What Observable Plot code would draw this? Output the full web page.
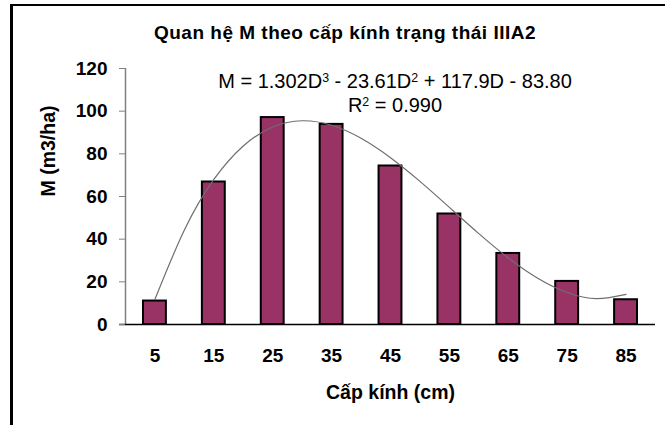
<!DOCTYPE html>
<html><head><meta charset="utf-8">
<script src="https://cdn.jsdelivr.net/npm/d3@7"></script>
<script src="https://cdn.jsdelivr.net/npm/@observablehq/plot@0.6"></script>
<style>
body{margin:0;background:#fff;font-family:Arial,"Liberation Sans",sans-serif;}
#wrap{position:relative;width:665px;height:425px;overflow:hidden;background:#fff;}
#frame{position:absolute;left:10px;top:4px;right:-10px;bottom:-10px;border-top:2.5px solid #000;border-left:3px solid #000;}
.t{position:absolute;white-space:nowrap;color:#000;transform:translateX(-50%);text-align:center;}
#title{left:345px;top:23px;font-size:19px;line-height:19px;font-weight:bold;letter-spacing:0.5px;}
#eq{left:395px;top:71px;font-size:20px;line-height:21px;}
#eq .s{font-size:0.62em;position:relative;top:-0.45em;}
#chart{position:absolute;left:0;top:0;}
</style></head><body>
<div id="wrap"><div id="frame"></div>
<div class="t" id="title">Quan hệ M theo cấp kính trạng thái IIIA2</div>
<div class="t" id="eq">M = 1.302D<span class="s">3</span> - 23.61D<span class="s">2</span> + 117.9D - 83.80<br>R<span class="s">2</span> = 0.990</div>
<div id="chart"></div></div>
<script>
const classes = [5, 15, 25, 35, 45, 55, 65, 75, 85];
const volumes = [11.0, 66.8, 97.0, 93.8, 74.3, 51.8, 33.3, 20.2, 11.6];
const trendClasses = [5, 10, 15, 20, 25, 30, 35, 40, 45, 50, 55, 60, 65, 70, 75, 80, 85];
const trendValues = [11.8, 44.3, 68.0, 83.7, 92.6, 95.5, 93.4, 87.3, 78.2, 67.1, 54.9, 42.6, 31.2, 21.7, 15.0, 12.1, 14.1];
const yTicks = [0, 20, 40, 60, 80, 100, 120];
const xTitle = "Cấp kính (cm)";
const yTitle = "M (m3/ha)";

const bars = classes.map((c, i) => ({cls: c, M: volumes[i]}));
const trend = trendClasses.map((c, i) => ({cls: c, M: trendValues[i]}));

const chart = Plot.plot({
  width: 665, height: 425,
  marginLeft: 125, marginRight: 10, marginTop: 68, marginBottom: 101,
  x: {type: "linear", domain: [0, 90]},
  y: {domain: [0, 120]},
  style: {background: "transparent", fontFamily: "Arial, 'Liberation Sans', sans-serif", fontSize: "19px", fontWeight: "bold", color: "#000"},
  marks: [
    Plot.rectY(bars, {x: "cls", y: "M", interval: 10, fill: "#993366", stroke: "#000", strokeWidth: 2, insetLeft: 18, insetRight: 18}),
    Plot.line(trend, {x: "cls", y: "M", curve: "natural", stroke: "#6e6e6e", strokeWidth: 1.2}),
    Plot.ruleX([0], {stroke: "#808080", strokeWidth: 1.5}),
    Plot.ruleY([0], {stroke: "#000", strokeWidth: 1.5, insetLeft: -6}),
    Plot.axisY({ticks: yTicks, tickSize: 6, tickPadding: 12, stroke: "#808080", label: null, fontSize: 19}),
    Plot.axisX({ticks: classes, tickSize: 0, tickPadding: 24, tickFormat: d => String(d), label: null, fontSize: 19}),
    Plot.text([xTitle], {frameAnchor: "bottom", dy: 68, text: d => d, lineAnchor: "middle", fontSize: 19.5, fontWeight: "bold"}),
    Plot.text([yTitle], {frameAnchor: "left", dx: -77, rotate: -90, text: d => d, lineAnchor: "middle", fontSize: 19.5, fontWeight: "bold"})
  ]
});
document.getElementById("chart").appendChild(chart);
</script>
</body></html>
